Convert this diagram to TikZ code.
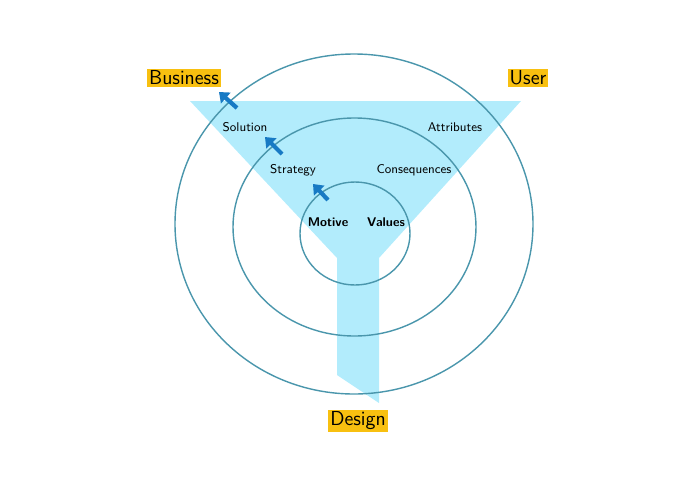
\documentclass[tikz,border=0pt]{standalone}
\usetikzlibrary{arrows.meta}
\definecolor{funnelblue}{RGB}{178,236,252}
\definecolor{ringteal}{RGB}{74,150,172}
\definecolor{arrowblue}{RGB}{24,122,196}
\definecolor{markgold}{RGB}{248,192,16}

\begin{document}
\begin{tikzpicture}[x=0.025cm, y=-0.025cm,
	every node/.style={font=\sffamily},
	ring/.style={draw=ringteal, line width=1pt},
	tag/.style={fill=markgold, inner sep=1.5pt, font=\sffamily\Large},
	level/.style={font=\sffamily\small},
	core/.style={font=\sffamily\small\bfseries},
	push/.style={arrowblue, line width=3pt, -{Triangle[length=6.5pt, width=10pt]}}]
	\useasboundingbox (0,0) rectangle (700,495);
	% funnel
	\fill[funnelblue] (190,101) -- (521,101) -- (379,258) -- (379,403)
		-- (337,375) -- (337,258) -- cycle;
	% rings
	\draw[ring] (354,224) ellipse [x radius=179, y radius=170];
	\draw[ring] (354.5,227) ellipse [x radius=121.5, y radius=109];
	\draw[ring] (355,233.5) ellipse [x radius=55, y radius=51.5];
	% labels
	\node[tag] (business) at (184,78) {Business};
	\node[tag] (user) at (528,78) {User};
	\node[tag] (design) at (358,421) {Design};
	\node[level] (solution) at (245,127) {Solution};
	\node[level] (attributes) at (455,127) {Attributes};
	\node[level] (strategy) at (293,170) {Strategy};
	\node[level] (consequences) at (414,170) {Consequences};
	\node[core] (motive) at (328,222) {Motive};
	\node[core] (values) at (386,222) {Values};
	% arrows
	\coordinate (t1) at (237,108); \coordinate (h1) at (219,92);
	\coordinate (t2) at (282,154); \coordinate (h2) at (265,137);
	\coordinate (t3) at (328,200); \coordinate (h3) at (313,184);
	\draw[push] (t1) -- (h1);
	\draw[push] (t2) -- (h2);
	\draw[push] (t3) -- (h3);
\end{tikzpicture}
\end{document}
